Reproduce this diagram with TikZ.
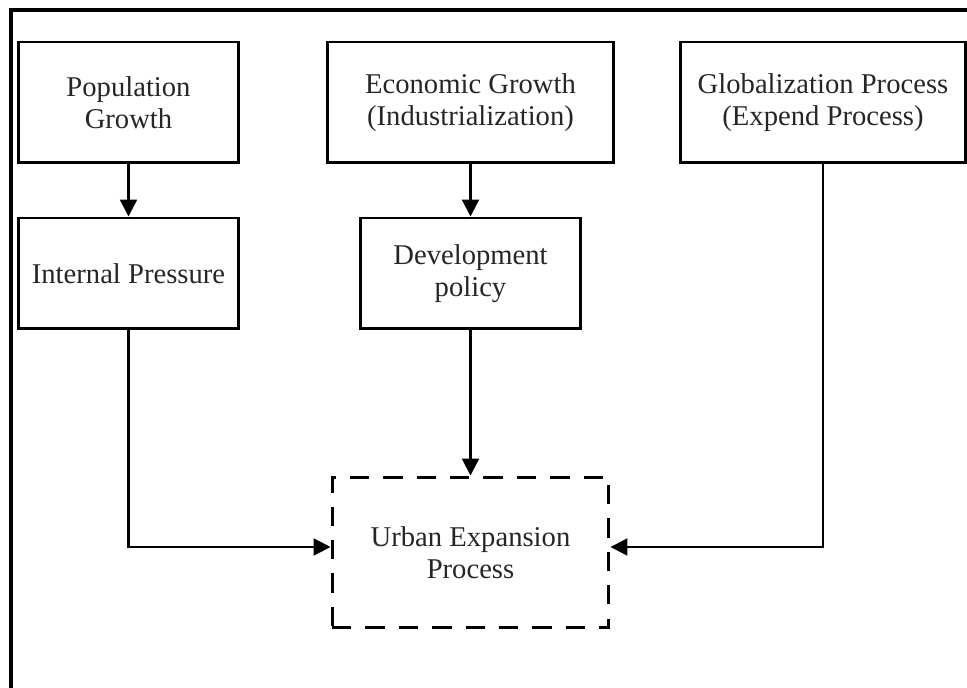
\documentclass[tikz,border=0pt]{standalone}
\usepackage{fontspec}
\setmainfont{Liberation Serif}
\usetikzlibrary{
  arrows.meta,
  positioning,
  calc
}

\tikzset{
  factor/.style={draw=black, line width=1.7pt, align=center, inner sep=0pt,
    font=\fontsize{16.3}{18.3}\selectfont, text=black!85},
  flow/.style={line width=1.3pt, -{Triangle[length=0.34cm,width=0.34cm]}}
}

\begin{document}
\begin{tikzpicture}[x=0.02cm, y=-0.02cm]
  \useasboundingbox (0,0) rectangle (967,688);
  % outer frame (top and left edges)
  \draw[line width=2.3pt] (967,10) -- (11,10) -- (11,688);

  % top row: driving factors
  \node[factor, minimum width=4.42cm, minimum height=2.42cm] (pop) at (128.5,102.5) {Population\\Growth};
  \node[factor, minimum width=5.74cm, minimum height=2.42cm] (econ) at (470.5,102.5) {Economic Growth\\(Industrialization)};
  \node[factor, minimum width=5.72cm, minimum height=2.42cm] (glob) at (823,102.5) {Globalization Process\\(Expend Process)};

  % second row
  \node[factor, minimum width=4.42cm, minimum height=2.22cm] (internal) at (128.5,273.5) {Internal Pressure};
  \node[factor, minimum width=4.42cm, minimum height=2.22cm] (devpolicy) at (470.5,273.5) {Development\\policy};

  % result
  \node[factor, dash pattern=on 11pt off 8pt, minimum width=5.54cm, minimum height=3.02cm] (urban) at (470.5,552.5) {Urban Expansion\\Process};

  \draw[flow] (pop) -- (internal);
  \draw[flow] (econ) -- (devpolicy);
  \draw[flow] (devpolicy) -- (urban);
  \draw[flow] (internal.south) |- ([yshift=0.11cm]urban.west);
  \draw[flow] (glob.south) |- ([yshift=0.11cm]urban.east);
\end{tikzpicture}
\end{document}
